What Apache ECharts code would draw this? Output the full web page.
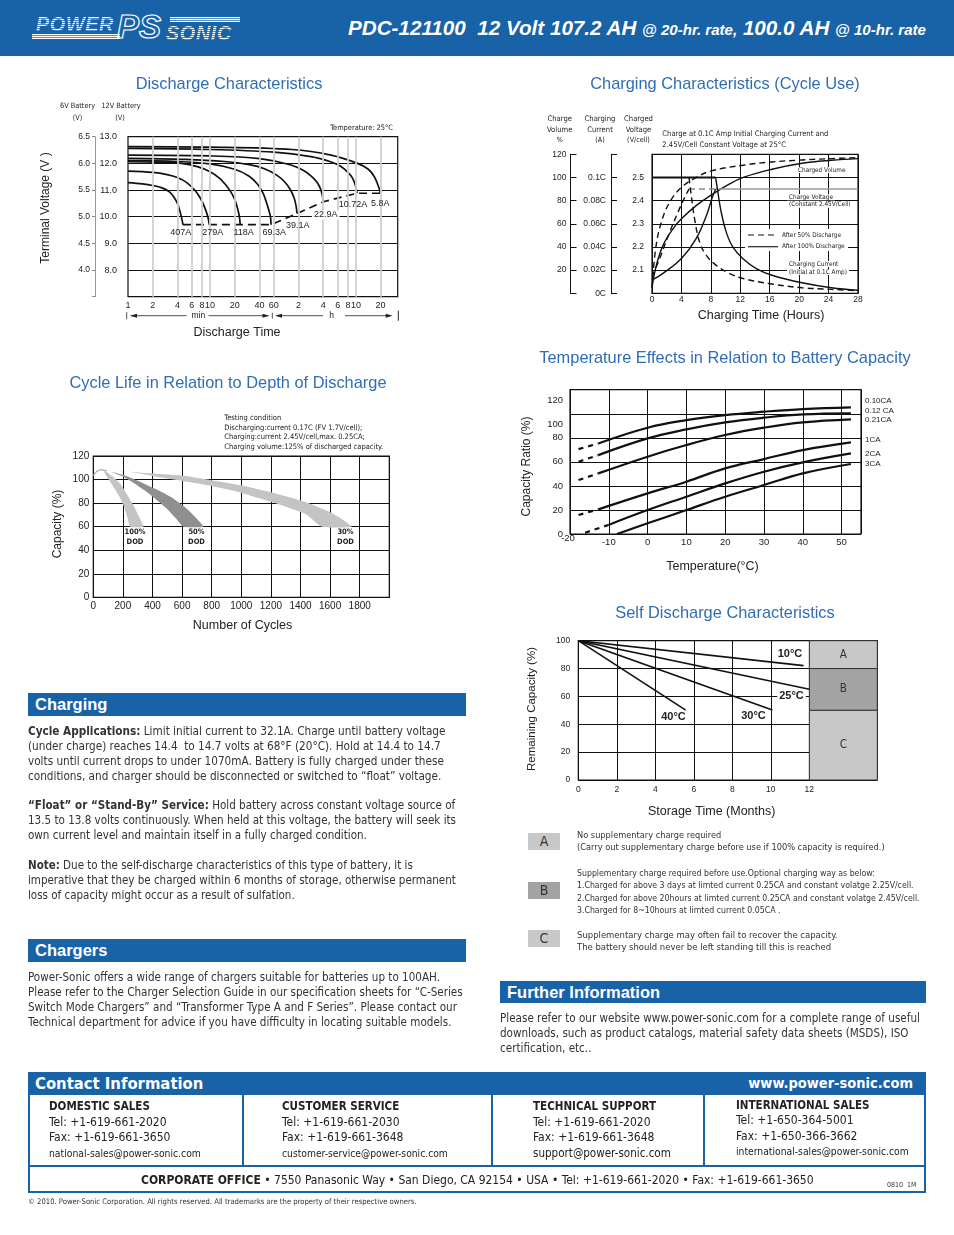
<!DOCTYPE html>
<html><head><meta charset="utf-8">
<script src="https://cdn.jsdelivr.net/npm/echarts@6.0.0/dist/echarts.min.js"></script>
<style>
html,body{margin:0;padding:0;background:#fff}
body{width:954px;height:1235px;position:relative;overflow:hidden;font-family:'Liberation Sans',Arial,sans-serif;color:#2b2b2b}
#chart{position:absolute;left:0;top:0;width:954px;height:1235px}
.a{position:absolute;white-space:nowrap}
.ttl{position:absolute;color:#2f6db5;font-size:16.4px;line-height:18px;transform:translateX(-50%);white-space:nowrap}
.bar{position:absolute;background:#1862a8;color:#fff;font-weight:bold;font-size:16.5px;padding-left:7px;box-sizing:border-box;white-space:nowrap}
.body{position:absolute;font-family:'Liberation Sans Narrow','DejaVu Sans Condensed',sans-serif;font-size:12px;line-height:15px;color:#333;white-space:nowrap}
.nar{font-family:'Liberation Sans Narrow','DejaVu Sans Condensed',sans-serif}
.hatch{background:repeating-linear-gradient(to bottom,#fff 0,#fff 1px,rgba(255,255,255,0.25) 1px,rgba(255,255,255,0.25) 2px);-webkit-background-clip:text;background-clip:text;color:transparent}
.box{position:absolute;width:32px;height:17px;line-height:17px;text-align:center;font-size:14px;color:#333}
.leg{position:absolute;left:577px;font-size:9px;line-height:12.3px;color:#333;white-space:nowrap}
.col{position:absolute;font-size:12px;line-height:15.5px;color:#222;white-space:nowrap}
.col b{font-size:11.5px}
.fit{display:inline-block}
</style></head><body>
<div id="chart"></div>

<!-- header -->
<div class="a" style="left:0;top:0;width:954px;height:56px;background:#1862a8"></div>
<div class="a" style="left:32px;top:34px;width:88px;height:5px;background:repeating-linear-gradient(to bottom,#fff 0,#fff 1px,rgba(255,255,255,0.25) 1px,rgba(255,255,255,0.25) 2px)"></div>
<div class="a hatch" style="left:36px;top:13px;font-size:20px;font-weight:bold;font-style:italic;letter-spacing:0.5px">POWER</div>
<div class="a" style="left:117px;top:8px;font-size:33px;font-weight:bold;font-style:italic;color:transparent;-webkit-text-stroke:1.2px #fff">PS</div>
<div class="a" style="left:170px;top:17px;width:70px;height:5px;background:repeating-linear-gradient(to bottom,#fff 0,#fff 1px,rgba(255,255,255,0.25) 1px,rgba(255,255,255,0.25) 2px)"></div>
<div class="a hatch" style="left:166px;top:22px;font-size:20px;font-weight:bold;font-style:italic;letter-spacing:0.5px">SONIC</div>
<div class="a" data-w="578" style="left:348px;top:15px;line-height:26px;color:#fff;font-weight:bold;font-style:italic;font-size:20.5px">PDC-121100&nbsp; 12 Volt 107.2 AH <span style="font-size:0.73em">@ 20-hr. rate,</span> 100.0 AH <span style="font-size:0.73em">@ 10-hr. rate</span></div>

<!-- chart titles -->
<div class="ttl" style="left:229px;top:74px">Discharge Characteristics</div>
<div class="ttl" style="left:725px;top:74px">Charging Characteristics (Cycle Use)</div>
<div class="ttl" style="left:228px;top:373px">Cycle Life in Relation to Depth of Discharge</div>
<div class="ttl" style="left:725px;top:348px">Temperature Effects in Relation to Battery Capacity</div>
<div class="ttl" style="left:725px;top:603px">Self Discharge Characteristics</div>

<!-- self discharge legend -->
<div class="box nar" style="left:528px;top:833px;background:#c8c8c8">A</div>
<div class="box nar" style="left:528px;top:882px;background:#a3a3a3">B</div>
<div class="box nar" style="left:528px;top:930px;background:#c8c8c8">C</div>
<div class="leg nar" data-w="308" style="top:829px">No supplementary charge required<br>(Carry out supplementary charge before use if 100% capacity is required.)</div>
<div class="leg nar" data-w="343" style="top:867px">Supplementary charge required before use.Optional charging way as below:<br>1.Charged for above 3 days at limted current 0.25CA and constant volatge 2.25V/cell.<br>2.Charged for above 20hours at limted current 0.25CA and constant volatge 2.45V/cell.<br>3.Charged for 8~10hours at limted current 0.05CA .</div>
<div class="leg nar" data-w="261" style="top:929px">Supplementary charge may often fail to recover the capacity.<br>The battery should never be left standing till this is reached</div>

<!-- Charging -->
<div class="bar" style="left:28px;top:693px;width:438px;height:23px;line-height:23px">Charging</div>
<div class="body" data-w="418" style="left:28px;top:723.5px"><b>Cycle Applications:</b> Limit initial current to 32.1A. Charge until battery voltage<br>(under charge) reaches 14.4&nbsp; to 14.7 volts at 68°F (20°C). Hold at 14.4 to 14.7<br>volts until current drops to under 1070mA. Battery is fully charged under these<br>conditions, and charger should be disconnected or switched to “float” voltage.</div>
<div class="body" data-w="428" style="left:28px;top:797.5px"><b>“Float” or “Stand-By” Service:</b> Hold battery across constant voltage source of<br>13.5 to 13.8 volts continuously. When held at this voltage, the battery will seek its<br>own current level and maintain itself in a fully charged condition.</div>
<div class="body" data-w="428" style="left:28px;top:857.5px"><b>Note:</b> Due to the self-discharge characteristics of this type of battery, it is<br>imperative that they be charged within 6 months of storage, otherwise permanent<br>loss of capacity might occur as a result of sulfation.</div>

<!-- Chargers -->
<div class="bar" style="left:28px;top:939px;width:438px;height:23px;line-height:23px">Chargers</div>
<div class="body" data-w="435" style="left:28px;top:969.5px">Power-Sonic offers a wide range of chargers suitable for batteries up to 100AH.<br>Please refer to the Charger Selection Guide in our specification sheets for “C-Series<br>Switch Mode Chargers” and “Transformer Type A and F Series”. Please contact our<br>Technical department for advice if you have difficulty in locating suitable models.</div>

<!-- Further information -->
<div class="bar" style="left:500px;top:981px;width:426px;height:22px;line-height:22px">Further Information</div>
<div class="body" data-w="420" style="left:500px;top:1010.5px">Please refer to our website www.power-sonic.com for a complete range of useful<br>downloads, such as product catalogs, material safety data sheets (MSDS), ISO<br>certification, etc..</div>

<!-- Contact -->
<div class="bar nar" style="left:28px;top:1072px;width:898px;height:23px;line-height:23px;font-size:16.5px">Contact Information<span style="position:absolute;right:13px;font-size:14.5px">www.power-sonic.com</span></div>
<div class="a" style="left:28px;top:1094px;width:894px;height:97px;border:2px solid #1862a8;border-top:none"></div>
<div class="a" style="left:28px;top:1165px;width:898px;height:2px;background:#1862a8"></div>
<div class="a" style="left:242px;top:1094px;width:2px;height:72px;background:#1862a8"></div>
<div class="a" style="left:491px;top:1094px;width:2px;height:72px;background:#1862a8"></div>
<div class="a" style="left:703px;top:1094px;width:2px;height:72px;background:#1862a8"></div>
<div class="col nar" style="left:49px;top:1099px"><b>DOMESTIC SALES</b><br>Tel: +1-619-661-2020<br>Fax: +1-619-661-3650<br><span class="fit" data-w="152">national-sales@power-sonic.com</span></div>
<div class="col nar" style="left:282px;top:1099px"><b>CUSTOMER SERVICE</b><br>Tel: +1-619-661-2030<br>Fax: +1-619-661-3648<br><span class="fit" data-w="166">customer-service@power-sonic.com</span></div>
<div class="col nar" style="left:533px;top:1099px"><b>TECHNICAL SUPPORT</b><br>Tel: +1-619-661-2020<br>Fax: +1-619-661-3648<br><span class="fit" data-w="138">support@power-sonic.com</span></div>
<div class="col nar" style="left:736px;top:1097.5px"><b>INTERNATIONAL SALES</b><br>Tel: +1-650-364-5001<br>Fax: +1-650-366-3662<br><span class="fit" data-w="173">international-sales@power-sonic.com</span></div>
<div class="a nar" data-w="673" style="left:141px;top:1173px;font-size:12.5px;line-height:15px;color:#222"><b>CORPORATE OFFICE</b> • 7550 Panasonic Way • San Diego, CA 92154 • USA • Tel: +1-619-661-2020 • Fax: +1-619-661-3650</div>
<div class="a nar" style="left:887px;top:1181px;font-size:7px;color:#333">0810&nbsp; 1M</div>
<div class="a nar" data-w="389" style="left:28px;top:1197px;font-size:8px;color:#333">© 2010. Power-Sonic Corporation. All rights reserved. All trademarks are the property of their respective owners.</div>

<script>
// ================= DATA =================
// Discharge characteristics: time (minutes), terminal voltage (12V battery)
const disTickMin = [1, 2, 4, 6, 8, 10, 20, 40, 60, 120, 240, 360, 480, 600, 1200];
const disTickLbl = ['1', '2', '4', '6', '8', '10', '20', '40', '60', '2', '4', '6', '8', '10', '20'];
const disCurrents = ['407A', '279A', '118A', '69.3A', '39.1A', '22.9A', '10.72A', '5.8A'];
const dis407 = [[1,11.28],[1.5,11.23],[2,11.17],[2.6,11.08],[3.2,10.93],[3.6,10.75],[4.0,10.5],[4.3,10.2],[4.55,9.9],[4.67,9.7]];
const dis279 = [[1,11.71],[2,11.66],[3,11.58],[4,11.47],[5.2,11.28],[6.5,11.0],[7.6,10.7],[8.6,10.35],[9.4,10.0],[9.8,9.7]];
const dis118 = [[1,12.06],[2,12.05],[4.5,12.0],[7,11.88],[10,11.69],[13,11.45],[15.5,11.2],[18,10.92],[20,10.65],[21.7,10.3],[22.8,10.0],[23.3,9.7]];
const dis69 = [[1,12.1],[4,12.07],[10,11.98],[20,11.78],[30,11.52],[38,11.22],[44,10.9],[48,10.6],[52,10.25],[54.5,10.0],[55.5,9.7]];
const dis39 = [[1,12.19],[5,12.15],[15,12.07],[30,11.95],[46,11.8],[65,11.56],[81,11.31],[95,11.02],[106,10.7],[112,10.4],[115,10.12]];
const dis22 = [[1,12.31],[10,12.28],[40,12.18],[97,11.94],[135,11.75],[170,11.53],[200,11.3],[221,11.06],[234,10.8],[240,10.56]];
const dis10 = [[1,12.56],[10,12.52],[60,12.42],[170,12.25],[300,12.05],[395,11.88],[480,11.66],[548,11.44],[595,11.15],[618,10.88]];
const dis5 = [[1,12.63],[10,12.61],[100,12.52],[299,12.31],[630,12.0],[850,11.78],[1007,11.5],[1110,11.2],[1170,11.0],[1189,10.88]];
const disEnd = [[4.67,9.7],[55.5,9.7],[115,10.12],[240,10.56],[618,10.88],[1189,10.88]];

// Charging characteristics: hours
const chgVol100 = [[0,4.9],[0.6,24.3],[1.5,41.4],[2.85,55.7],[4,64.3],[6,75.7],[8.07,84.9],[10.1,92.8],[12.4,100],[16.3,107.1],[20.4,112.3],[24.4,114.9],[28,116.3]];
const chgVol50 = [[0,4.9],[0.5,38.6],[1.27,61.4],[2.4,78.6],[4,91.4],[6,100],[8.07,105.7],[12.4,110.6],[16.3,113.4],[20.4,115.1],[24.4,116.3],[28,117.1]];
const chgVolt100 = [[0,2.057],[1.5,2.086],[4,2.15],[6,2.236],[7.4,2.336],[8.2,2.414],[8.65,2.45]];
const chgVolt50 = [[0,2.071],[1.04,2.15],[2.4,2.264],[3.53,2.35],[4.44,2.414],[5.03,2.45]];
const chgHoldDash = [[5.03,2.45],[8.65,2.45]];
const chgHold = [[8.65,2.45],[28,2.45]];
const chgCurFlat = [[0,0.1],[8.65,0.1]];
const chgCur100 = [[8.65,0.1],[8.97,0.0866],[9.42,0.0696],[10.1,0.0526],[11.0,0.0398],[12.37,0.0298],[14.18,0.0213],[16.31,0.0156],[20.39,0.0091],[24.38,0.0048],[28,0.0026]];
const chgCur50 = [[5.03,0.1],[5.35,0.0838],[5.8,0.0639],[6.48,0.044],[7.39,0.0327],[8.74,0.0241],[10.56,0.017],[12.37,0.0128],[16.31,0.008],[20.39,0.0048],[24.38,0.0034],[28,0.0023]];

// Temperature effects: °C, capacity %
const tmpNames = ['0.10CA', '0.12 CA', '0.21CA', '1CA', '2CA', '3CA'];
const tmpDash = [
  [[-17.8,70.6],[-12.7,75.3]],
  [[-17.8,60.1],[-12.7,65.6]],
  [[-17.8,44.9],[-12.7,50.4]],
  [[-17.8,15.8],[-12.7,20.5]],
  [[-16.1,1.1],[-10.1,7.5]],
  []
];
const tmpSolid = [
  [[-12.7,75.3],[0,88.4],[10,94.7],[20,98.9],[30,101.7],[40,103.9],[52.4,105.3]],
  [[-12.7,65.6],[0,79.5],[10,87],[20,92.8],[30,96.7],[40,99.4],[52.4,100.3]],
  [[-12.7,50.4],[0,64.3],[10,74],[20,82.3],[30,88.4],[40,92.8],[52.4,95.3]],
  [[-12.7,20.5],[0,33.8],[10,43.5],[20,54.6],[30,62.3],[40,69.8],[52.4,76.2]],
  [[-10.1,7.5],[0,19.9],[10,31],[20,42.1],[30,51.8],[40,59.6],[52.4,67]],
  [[-7.9,0],[0,8.9],[10,19.9],[20,31],[30,40.7],[40,50.4],[52.4,58.2]]
];

// Cycle life: cycles, capacity % (band outlines)
const cycStart = [[0,103.5],[25,107],[50,108.2],[90,107.6]];
const cycBand100 = [[80,107.5],[130,102.5],[180,96.8],[225,88],[270,78.4],[305,69.5],[338,60],[248,60],[228,69],[203,78.4],[170,87],[135,93.9],[100,101],[75,106]];
const cycBand50 = [[90,107.5],[200,104],[315,98.2],[430,91.5],[540,84],[620,76.5],[676,69.9],[743,60],[608,60],[555,67.5],[495,75.5],[430,82.5],[360,89.7],[280,96.5],[203,102.4],[130,106]];
const cycBand30 = [[90,107.8],[300,106],[608,103.3],[800,99.5],[991,95.3],[1220,88.5],[1441,80.6],[1580,73.5],[1666,67.6],[1745,60],[1543,60],[1441,70.4],[1330,75.7],[1216,80.6],[1100,85],[991,89.1],[800,94.5],[608,98.7],[450,102],[315,105.2],[200,107]];

// Self discharge: months, remaining capacity %
const sdNames = ['10°C', '25°C', '30°C', '40°C'];
const sdLines = [[[0,100],[11.7,82.1]], [[0,100],[12,65.1]], [[0,100],[10.08,50.2]], [[0,100],[5.58,50.2]]];
const sdZoneX = [12, 15.53];
const sdZones = [{name:'A', from:80, to:100}, {name:'B', from:50, to:80}, {name:'C', from:0, to:50}];

// ================= TEXT FITTING =================
document.querySelectorAll('[data-w]').forEach(el => {
  const target = +el.dataset.w;
  const fs = parseFloat(getComputedStyle(el).fontSize);
  const w = el.getBoundingClientRect().width;
  if (w > 0) el.style.fontSize = (fs * target / w).toFixed(2) + 'px';
});

// ================= STYLE =================
const SANS = "'Liberation Sans', Arial, Helvetica, sans-serif";
const NARROW = "'Liberation Sans Narrow', 'DejaVu Sans Condensed', sans-serif";
const INK = '#111';
const zoneColor = {A:'#c8c8c8', B:'#a3a3a3', C:'#c8c8c8'};

function lab(o) { return Object.assign({fontSize:9, color:'#222', fontFamily:SANS, hideOverlap:false}, o); }
function disLabel(v) {
  for (let i = 0; i < disTickMin.length; i++) if (Math.abs(Math.log(v / disTickMin[i])) < 1e-3) return disTickLbl[i];
  return '';
}
function T(x, y, text, o) {
  o = o || {};
  return {type:'text', x:x, y:y, rotation:o.rot || 0, z:50, silent:true,
    style:{text:text, fontSize:o.fs || 9, fontFamily:o.ff || SANS, fontWeight:o.fw || 'normal', fill:o.c || '#222',
      align:o.al || 'center', verticalAlign:'middle', backgroundColor:o.bg, padding:o.pad}};
}
function L(x1, y1, x2, y2, w) { return {type:'line', z:50, silent:true, shape:{x1, y1, x2, y2}, style:{stroke:'#222', lineWidth:w || 0.8}}; }
function P(pts) { return {type:'polygon', z:50, silent:true, shape:{points:pts}, style:{fill:'#222'}}; }

const grids = [
  {left:128, top:136.7, width:269.7, height:160},
  {left:652, top:154.3, width:206, height:139},
  {left:570, top:389.7, width:291, height:144.3},
  {left:93.3, top:456, width:296, height:141.3},
  {left:578.3, top:640.7, width:299, height:139.3}
].map(g => Object.assign(g, {show:true, borderColor:INK, borderWidth:1.2, backgroundColor:'rgba(0,0,0,0)', containLabel:false, outerBoundsMode:'none'}));

const gridLine = {show:true, lineStyle:{color:INK, width:1}};
const noLine = {show:false};

const xAxis = [
  {gridIndex:0, type:'log', logBase:10, min:1, max:1940, axisLine:noLine, axisTick:noLine, splitLine:noLine, minorTick:noLine, minorSplitLine:noLine,
    axisLabel:lab({customValues:disTickMin, margin:4, formatter:v => disLabel(v)})},
  {gridIndex:1, type:'value', min:0, max:28, interval:4, axisLine:{show:true, lineStyle:{color:INK}}, axisTick:noLine, splitLine:gridLine, axisLabel:lab({margin:2, fontSize:8.5})},
  {gridIndex:2, type:'value', min:-20, max:55, interval:10, axisLine:noLine, axisTick:noLine, splitLine:gridLine,
    axisLabel:lab({margin:3, fontSize:9.5, formatter:v => (v <= -20 || v > 50) ? '' : String(v)})},
  {gridIndex:3, type:'value', min:0, max:2000, interval:200, axisLine:noLine, axisTick:noLine, splitLine:gridLine,
    axisLabel:lab({margin:4, fontSize:10, formatter:v => v >= 2000 ? '' : String(v)})},
  {gridIndex:4, type:'value', min:0, max:sdZoneX[1], interval:2, axisLine:noLine, axisTick:noLine, splitLine:gridLine,
    axisLabel:lab({margin:5, fontSize:8.5, formatter:v => v > 12.01 ? '' : String(v)})}
];

const yAxis = [
  {gridIndex:0, type:'value', min:7, max:13, interval:1, axisLine:noLine, axisTick:noLine, splitLine:gridLine,
    axisLabel:lab({margin:11, fontSize:9, formatter:v => v < 7.5 ? '' : v.toFixed(1)})},
  {gridIndex:0, type:'value', position:'left', offset:33, min:3.5, max:6.5, interval:0.5, axisLine:{show:true, lineStyle:{color:'#999', width:1}},
    axisTick:{show:true, length:3, lineStyle:{color:'#888'}}, splitLine:noLine,
    axisLabel:lab({margin:5, fontSize:8.5, formatter:v => v < 3.75 ? '' : v.toFixed(1)})},
  {gridIndex:1, type:'value', position:'left', offset:0, min:2.0, max:2.6, interval:0.1, axisLine:{show:true, lineStyle:{color:INK}}, axisTick:noLine, splitLine:gridLine,
    axisLabel:lab({margin:8, fontSize:8.5, formatter:v => (v < 2.05 || v > 2.55) ? '' : v.toFixed(1)})},
  {gridIndex:1, type:'value', position:'left', offset:41, min:0, max:0.12, interval:0.02, axisLine:{show:true, lineStyle:{color:INK}},
    axisTick:{show:true, inside:true, length:6, lineStyle:{color:INK}}, splitLine:noLine,
    axisLabel:lab({margin:5, fontSize:8.5, formatter:v => v > 0.11 ? '' : (Number(v.toFixed(2)) + 'C')})},
  {gridIndex:1, type:'value', position:'left', offset:81.5, min:0, max:120, interval:20, axisLine:{show:true, lineStyle:{color:INK}},
    axisTick:{show:true, inside:true, length:6, lineStyle:{color:INK}}, splitLine:noLine,
    axisLabel:lab({margin:4, fontSize:8.5, formatter:v => v < 1 ? '' : String(v)})},
  {gridIndex:2, type:'value', min:0, max:120, interval:20, axisLine:noLine, axisTick:noLine, splitLine:gridLine,
    axisLabel:lab({margin:7, fontSize:9.5, formatter:v => v >= 100 ? '{s|' + v + '}' : String(v), rich:{s:{fontSize:9.5, fontFamily:SANS, color:'#222', padding:[22, 0, 0, 0]}}})},
  {gridIndex:3, type:'value', min:0, max:120, interval:20, axisLine:noLine, axisTick:noLine, splitLine:gridLine, axisLabel:lab({margin:4, fontSize:10})},
  {gridIndex:4, type:'value', min:0, max:100, interval:20, axisLine:noLine, axisTick:noLine, splitLine:gridLine, axisLabel:lab({margin:8, fontSize:8.5})}
];

const series = [];
function line(xi, yi, data, o) {
  o = o || {};
  series.push({type:'line', xAxisIndex:xi, yAxisIndex:yi, data:data, showSymbol:false, silent:true, smooth:o.smooth || 0, z:o.z || 3,
    lineStyle:{color:o.c || INK, width:o.w || 1.6, type:o.t || 'solid'}});
}

// --- discharge ---
series.push({type:'line', xAxisIndex:0, yAxisIndex:0, data:[], silent:true, z:1,
  markLine:{silent:true, symbol:['none','none'], label:{show:false}, animation:false, emphasis:{disabled:true},
    lineStyle:{color:'#d0d0d0', width:1.8, type:'solid'}, data:disTickMin.slice(1).map(v => ({xAxis:v}))}});
[dis407, dis279, dis118, dis69, dis39, dis22, dis10, dis5].forEach(d => line(0, 0, d, {smooth:0.35, w:1.7}));
line(0, 0, disEnd, {t:[8, 5], w:1.7});

// --- charging ---
line(1, 4, chgVol100, {smooth:0.4, w:1.4});
line(1, 4, chgVol50, {smooth:0.4, w:1.4, t:[6, 4]});
line(1, 2, chgVolt100, {smooth:0.4, w:1.4});
line(1, 2, chgVolt50, {smooth:0.4, w:1.4, t:[6, 4]});
line(1, 2, chgHoldDash, {c:'#888', w:1.4, t:[6, 4]});
line(1, 2, chgHold, {c:'#999', w:1.4});
line(1, 3, chgCurFlat, {w:2});
line(1, 3, chgCur100, {smooth:0.4, w:1.4});
line(1, 3, chgCur50, {smooth:0.4, w:1.4, t:[6, 4]});

// --- temperature ---
tmpDash.forEach(d => { if (d.length) line(2, 5, d, {w:2.2, t:[5, 5]}); });
tmpSolid.forEach(d => line(2, 5, d, {w:2.2, smooth:0.4}));

// --- cycle life bands ---
function band(pts, color) {
  series.push({type:'custom', xAxisIndex:3, yAxisIndex:6, data:[[0, 0]], silent:true, z:2,
    renderItem:(p, api) => ({type:'polygon', shape:{points:pts.map(pt => api.coord(pt)), smooth:0.15}, style:{fill:color, stroke:null}})});
}
band(cycBand30, '#c4c4c4');
band(cycBand50, '#8f8f8f');
band(cycBand100, '#c4c4c4');
line(3, 6, cycStart, {c:'#aaa', w:1.4, smooth:0.4});

// --- self discharge ---
series.push({type:'line', xAxisIndex:4, yAxisIndex:7, data:[], silent:true, z:2,
  markArea:{silent:true, animation:false,
    label:{show:true, position:'inside', fontSize:11.5, color:'#333', fontFamily:NARROW},
    data:sdZones.map(z => [{name:z.name, xAxis:sdZoneX[0], yAxis:z.from, itemStyle:{color:zoneColor[z.name], borderColor:'#333', borderWidth:1}}, {xAxis:sdZoneX[1], yAxis:z.to}])}});
sdLines.forEach(d => line(4, 7, d, {w:1.6}));

// ================= GRAPHIC TEXT =================
const g = [];
// discharge
g.push(T(77.5, 106, '6V Battery', {fs:7.3, ff:NARROW}), T(77.5, 118, '(V)', {fs:7.3, ff:NARROW}));
g.push(T(121, 106, '12V Battery', {fs:7.3, ff:NARROW}), T(120, 118, '(V)', {fs:7.3, ff:NARROW}));
g.push(T(393, 128, 'Temperature: 25°C', {fs:7.4, ff:NARROW, al:'right'}));
g.push(T(46, 208, 'Terminal Voltage (V )', {fs:12, rot:Math.PI / 2}));
const disLabPos = [[180.8,233],[212.7,233],[243.7,233],[274.3,233],[297.7,226],[325.7,215],[353,204.3],[380.3,203.3]];
disCurrents.forEach((t, i) => g.push(T(disLabPos[i][0], disLabPos[i][1], t, {fs:9, bg: i === 5 ? '#fff' : null, pad: i === 5 ? [0, 2] : null})));
g.push(T(237, 332.7, 'Discharge Time', {fs:12.5}));
const ay = 315.7;
g.push(L(126.7, ay - 3.5, 126.7, ay + 3.5), L(131, ay, 186.5, ay), P([[130, ay], [137, ay - 2], [137, ay + 2]]));
g.push(T(198.3, ay - 0.5, 'min', {fs:8.5}));
g.push(L(208.5, ay, 266, ay), P([[269.5, ay], [262.5, ay - 2], [262.5, ay + 2]]), L(272.3, ay - 3, 272.3, ay + 3));
g.push(L(278, ay, 323, ay), P([[275, ay], [282, ay - 2], [282, ay + 2]]));
g.push(T(331.7, ay - 0.5, 'h', {fs:8.5}));
g.push(L(345, ay, 389, ay), P([[392.7, ay], [385.7, ay - 2], [385.7, ay + 2]]), L(398.3, ay - 5, 398.3, ay + 5, 1));

// charging
[['Charge', 'Volume', '%', 559.7], ['Charging', 'Current', '(A)', 600], ['Charged', 'Voltage', '(V/cell)', 638.5]].forEach(h => {
  g.push(T(h[3], 119, h[0], {fs:7.6, ff:NARROW}), T(h[3], 130, h[1], {fs:7.6, ff:NARROW}), T(h[3], 140.5, h[2], {fs:7.2, ff:NARROW}));
});
g.push(T(662.3, 134, 'Charge at 0.1C Amp Initial Charging Current and', {fs:7.6, ff:NARROW, al:'left'}));
g.push(T(662.3, 145, '2.45V/Cell Constant Voltage at 25°C', {fs:7.6, ff:NARROW, al:'left'}));
g.push(T(796, 170, 'Charged Volume', {fs:6.4, ff:NARROW, al:'left', bg:'#fff', pad:[0, 2]}));
g.push(T(787, 197.3, 'Charge Voltage', {fs:6.4, ff:NARROW, al:'left', bg:'#fff', pad:[0, 2]}));
g.push(T(787, 204.8, '(Constant 2.45V/Cell)', {fs:6.4, ff:NARROW, al:'left', bg:'#fff', pad:[0, 2]}));
g.push({type:'rect', z:49, silent:true, shape:{x:745, y:229, width:103, height:22}, style:{fill:'#fff'}});
g.push({type:'line', z:50, silent:true, shape:{x1:748, y1:235, x2:778, y2:235}, style:{stroke:INK, lineWidth:1.2, lineDash:[6, 4]}});
g.push(L(748, 246.7, 778, 246.7, 1.2));
g.push(T(782, 235, 'After 50% Discharge', {fs:6.4, ff:NARROW, al:'left'}));
g.push(T(782, 246.7, 'After 100% Discharge', {fs:6.4, ff:NARROW, al:'left'}));
g.push(T(787, 264, 'Charging Current', {fs:6.4, ff:NARROW, al:'left', bg:'#fff', pad:[0, 2]}));
g.push(T(787, 272, '(Initial at 0.1C Amp)', {fs:6.4, ff:NARROW, al:'left', bg:'#fff', pad:[0, 2]}));
g.push(T(761, 315.7, 'Charging Time (Hours)', {fs:12.5}));

// temperature
const tmpLabY = [401, 410.7, 420, 440, 453.3, 464];
tmpNames.forEach((t, i) => g.push(T(865, tmpLabY[i], t, {fs:8, ff:SANS, al:'left'})));
g.push(T(568, 538.5, '-20', {fs:9.5}));
g.push(T(526.7, 466.5, 'Capacity Ratio (%)', {fs:12, rot:Math.PI / 2}));
g.push(T(712.5, 566.7, 'Temperature(°C)', {fs:12.5}));

// cycle life
['Testing condition', 'Discharging:current 0.17C (FV 1.7V/cell);', 'Charging:current 2.45V/cell,max. 0.25CA;', 'Charging volume:125% of discharged capacity.']
  .forEach((t, i) => g.push(T(224.3, 418.3 + i * 9.5, t, {fs:7.5, ff:NARROW, al:'left'})));
[['100%', 135], ['50%', 196.5], ['30%', 345.5]].forEach(d => {
  g.push(T(d[1], 532.3, d[0], {fs:7.5, fw:'bold', ff:NARROW}), T(d[1], 542.3, 'DOD', {fs:7.5, fw:'bold', ff:NARROW}));
});
g.push(T(57.5, 524, 'Capacity (%)', {fs:12, rot:Math.PI / 2}));
g.push(T(242.5, 625.5, 'Number of Cycles', {fs:12.5}));

// self discharge
const sdLabPos = [[790, 654], [791.5, 695.7], [753.5, 716], [673.5, 717.3]];
sdNames.forEach((t, i) => g.push(T(sdLabPos[i][0], sdLabPos[i][1], t, {fs:11, fw:'bold', bg:'#fff', pad:[1, 2]})));
g.push(T(531.7, 709, 'Remaining Capacity (%)', {fs:11.5, rot:Math.PI / 2}));
g.push(T(711.7, 811.7, 'Storage Time (Months)', {fs:12.5}));

const chart = echarts.init(document.getElementById('chart'), null, {renderer:'canvas'});
chart.setOption({animation:false, backgroundColor:'rgba(0,0,0,0)', grid:grids, xAxis:xAxis, yAxis:yAxis, series:series, graphic:{elements:g}});
</script>
</body></html>
